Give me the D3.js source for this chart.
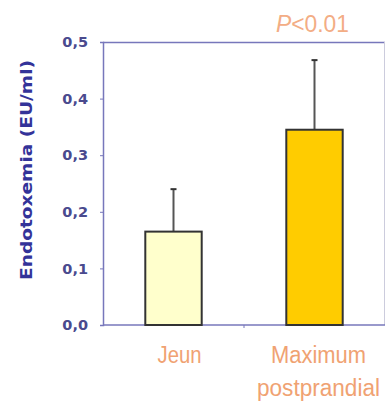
<!DOCTYPE html>
<html>
<head>
<meta charset="utf-8">
<script src="https://cdn.jsdelivr.net/npm/d3@7"></script>
<style>
  body { margin: 0; background: #fff; }
</style>
</head>
<body>
<div id="chart"></div>
<script>
// data
var categories = ['Jeun', 'Maximum postprandial'];
var means = [0.165, 0.345];
var errTops = [0.24, 0.468];
var yTicks = [0, 0.1, 0.2, 0.3, 0.4, 0.5];
var barColors = ['#ffffcc', '#ffcc00'];

var svgWidth = 386;
var svgHeight = 406;

var margin = { top: 42, right: 1, bottom: 81, left: 103 };
var chartWidth = svgWidth - margin.left - margin.right;
var chartHeight = svgHeight - margin.top - margin.bottom;

var svg = d3.select('#chart')
  .append('svg')
  .attr('width', svgWidth)
  .attr('height', svgHeight);

var chartGroup = svg.append('g')
  .attr('transform', `translate(${margin.left}, ${margin.top})`);

var yScale = d3.scaleLinear()
  .domain([0, 0.5])
  .range([chartHeight, 0]);

var xScale = d3.scaleBand()
  .domain(categories)
  .range([0, chartWidth])
  .paddingInner(0.6)
  .paddingOuter(0.3);

var axisColor = '#7777bb';

// frame: top and right lines
chartGroup.append('line')
  .attr('x1', 0).attr('x2', chartWidth)
  .attr('y1', 0.5).attr('y2', 0.5)
  .attr('stroke', axisColor).attr('stroke-width', 1.5);
chartGroup.append('line')
  .attr('x1', chartWidth - 0.5).attr('x2', chartWidth - 0.5)
  .attr('y1', 0).attr('y2', chartHeight)
  .attr('stroke', '#ccccdd').attr('stroke-width', 1);

// y axis
var yAxis = d3.axisLeft(yScale)
  .tickValues(yTicks)
  .tickSize(3)
  .tickPadding(12)
  .tickFormat(d => d3.format('.1f')(d).replace('.', ','));

var yG = chartGroup.append('g').call(yAxis);
yG.select('.domain').attr('stroke', axisColor).attr('stroke-width', 1.5);
yG.selectAll('.tick line').attr('stroke', axisColor);
yG.selectAll('.tick text')
  .attr('fill', '#4a4a8e')
  .attr('font-family', 'DejaVu Sans, Verdana, sans-serif')
  .attr('font-weight', 'bold')
  .attr('font-size', 14.5);

// x axis line with the middle tick
chartGroup.append('line')
  .attr('x1', 0).attr('x2', chartWidth)
  .attr('y1', chartHeight).attr('y2', chartHeight)
  .attr('stroke', axisColor).attr('stroke-width', 1.5);
var midX = (xScale(categories[0]) + xScale(categories[1]) + xScale.bandwidth()) / 2;
chartGroup.append('line')
  .attr('x1', midX).attr('x2', midX)
  .attr('y1', chartHeight).attr('y2', chartHeight + 3)
  .attr('stroke', axisColor);

// error bars (drawn first so the bar covers the base)
chartGroup.selectAll('.err')
  .data(categories)
  .enter()
  .append('line')
  .attr('class', 'err')
  .attr('x1', d => xScale(d) + xScale.bandwidth() / 2)
  .attr('x2', d => xScale(d) + xScale.bandwidth() / 2)
  .attr('y1', (d, i) => yScale(means[i]))
  .attr('y2', (d, i) => yScale(errTops[i]))
  .attr('stroke', '#555555')
  .attr('stroke-width', 2);

chartGroup.selectAll('.cap')
  .data(categories)
  .enter()
  .append('line')
  .attr('class', 'cap')
  .attr('x1', d => xScale(d) + xScale.bandwidth() / 2 - 3)
  .attr('x2', d => xScale(d) + xScale.bandwidth() / 2 + 3)
  .attr('y1', (d, i) => yScale(errTops[i]))
  .attr('y2', (d, i) => yScale(errTops[i]))
  .attr('stroke', '#333333')
  .attr('stroke-width', 2);

// bars
chartGroup.selectAll('.bar')
  .data(categories)
  .enter()
  .append('rect')
  .attr('class', 'bar')
  .attr('x', d => xScale(d))
  .attr('y', (d, i) => yScale(means[i]))
  .attr('width', xScale.bandwidth())
  .attr('height', (d, i) => chartHeight - yScale(means[i]))
  .attr('fill', (d, i) => barColors[i])
  .attr('stroke', '#333333')
  .attr('stroke-width', 2);

// category labels (narrow font squeezed with textLength)
var labelFont = 'Liberation Sans, Arial, sans-serif';
var labelColor = '#f0a272';
var labelLines = [[['Jeun', 44]], [['Maximum', 95], ['postprandial', 123]]];
categories.forEach(function(c, i) {
  var cx = xScale(c) + xScale.bandwidth() / 2 + (i === 0 ? 6 : 4);
  labelLines[i].forEach(function(w, j) {
    chartGroup.append('text')
      .attr('x', cx)
      .attr('y', chartHeight + 38 + j * 33)
      .attr('text-anchor', 'middle')
      .attr('font-family', labelFont)
      .attr('font-size', 23)
      .attr('textLength', w[1])
      .attr('lengthAdjust', 'spacingAndGlyphs')
      .attr('fill', labelColor)
      .text(w[0]);
  });
});

// significance label
var pText = chartGroup.append('text')
  .attr('x', xScale(categories[1]) + xScale.bandwidth() / 2 - 2)
  .attr('y', -10)
  .attr('text-anchor', 'middle')
  .attr('font-family', labelFont)
  .attr('font-size', 23)
  .attr('textLength', 73)
  .attr('lengthAdjust', 'spacingAndGlyphs')
  .attr('fill', '#f3ad85');
pText.append('tspan').attr('font-style', 'italic').text('P');
pText.append('tspan').text('<0.01');

// y label
svg.append('text')
  .attr('transform', 'translate(32, 170) rotate(-90)')
  .attr('text-anchor', 'middle')
  .attr('font-family', 'DejaVu Sans, Verdana, sans-serif')
  .attr('font-weight', 'bold')
  .attr('font-size', 16)
  .attr('textLength', 220)
  .attr('lengthAdjust', 'spacingAndGlyphs')
  .attr('fill', '#333399')
  .text('Endotoxemia (EU/ml)');
</script>
</body>
</html>
